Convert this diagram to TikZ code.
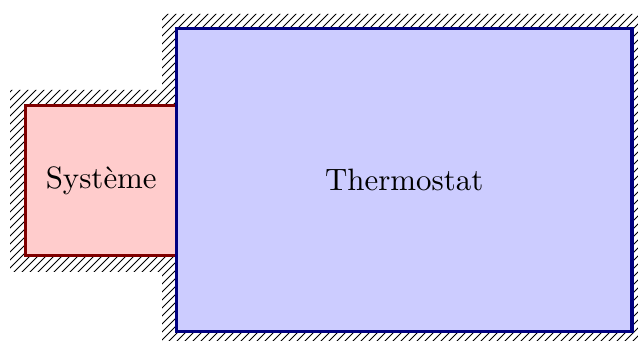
\documentclass[tikz,border=0pt]{standalone}
\begin{document}
\begin{tikzpicture}[x=0.3236pt,y=-0.3236pt,
  hatchline/.style={draw=black,line width=0.3pt},
  sysbox/.style={draw=red!50!black,fill=red!20,line width=1pt,rectangle,outer sep=0pt},
  thbox/.style={draw=blue!50!black,fill=blue!20,line width=1pt,rectangle,outer sep=0pt}]
\useasboundingbox (0,0) rectangle (638,341);
\begin{scope}
\clip (10,90) rectangle (177,272) (162,14) rectangle (638,341);
\foreach \k in {0,...,130} {
  \draw[hatchline] (-360+8*\k,350) -- (8*\k,-10);
}
\end{scope}
\node[sysbox,minimum width=49.0pt,minimum height=48.5pt] (sys) at (101.25,180.5) {Système};
\node[thbox,minimum width=147.4pt,minimum height=98.05pt] (th) at (404.25,180) {Thermostat};
\end{tikzpicture}
\end{document}
